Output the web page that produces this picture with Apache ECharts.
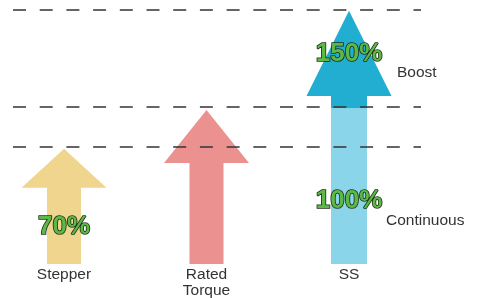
<!DOCTYPE html>
<html>
<head>
<meta charset="utf-8">
<script src="https://cdn.jsdelivr.net/npm/echarts@6/dist/echarts.min.js"></script>
<style>
  html, body { margin: 0; padding: 0; background: #fff; }
  #chart { width: 481px; height: 298px; }
</style>
</head>
<body>
<div id="chart"></div>
<script>
// levels are on a 0..150 torque scale (150 = boost ceiling)
const categories = ['Stepper', 'Rated\nTorque', 'SS'];
const tipLevel = [68, 91, 149.5];
const headBaseLevel = [45, 59.6, 99.2];
const boostStart = [null, null, 92];
const guideLevels = [150, 92.7, 69.1];

const pctText = ['70%', '100%', '150%'];
const pctCat = [0, 2, 2];
const pctLevel = [22, 37.2, 124];

const sideText = ['Boost', 'Continuous'];
const sideLevel = [112.8, 25.4];

const arrowColors = ['#f0d58e', '#eb9190', '#8bd5ea'];
const boostColor = '#21aed0';
const FONT = '"Liberation Sans", Arial, sans-serif';

const chart = echarts.init(document.getElementById('chart'));

function renderArrow(params, api) {
  const i = api.value(0);
  const x = api.coord([i, 0])[0];
  const yBase = api.coord([i, 0])[1];
  const yTip = api.coord([i, api.value(1)])[1];
  const yHead = api.coord([i, api.value(2)])[1];
  const headHalf = 42.5;
  const shaftHalf = i === 2 ? 18 : 17;
  const children = [];
  const split = boostStart[i];
  if (split != null) {
    const ySplit = api.coord([i, split])[1];
    children.push({
      type: 'rect',
      shape: { x: x - shaftHalf, y: ySplit, width: shaftHalf * 2, height: yBase - ySplit },
      style: { fill: arrowColors[i] }
    });
    children.push({
      type: 'polygon',
      shape: { points: [[x, yTip], [x + headHalf, yHead], [x + shaftHalf, yHead], [x + shaftHalf, ySplit],
        [x - shaftHalf, ySplit], [x - shaftHalf, yHead], [x - headHalf, yHead]] },
      style: { fill: boostColor }
    });
    sideText.forEach((t, k) => {
      children.push({
        type: 'text',
        x: x + (k === 0 ? 48 : 37),
        y: api.coord([i, sideLevel[k]])[1],
        style: { text: t, fill: '#333', fontSize: 15.5, fontFamily: FONT, verticalAlign: 'middle', align: 'left' }
      });
    });
  } else {
    children.push({
      type: 'polygon',
      shape: { points: [[x, yTip], [x + headHalf, yHead], [x + shaftHalf, yHead], [x + shaftHalf, yBase],
        [x - shaftHalf, yBase], [x - shaftHalf, yHead], [x - headHalf, yHead]] },
      style: { fill: arrowColors[i] }
    });
  }
  return { type: 'group', children: children };
}

function renderPct(params, api) {
  const p = api.coord([api.value(0), api.value(1)]);
  return {
    type: 'text',
    x: p[0],
    y: p[1],
    style: {
      text: pctText[params.dataIndex],
      fill: '#5cb945',
      stroke: '#1e2a18',
      lineWidth: 1.6,
      fontSize: 26,
      fontWeight: 'bold',
      fontFamily: FONT,
      align: 'center',
      verticalAlign: 'middle'
    }
  };
}

chart.setOption({
  animation: false,
  grid: [
    { left: 64, right: 132, top: 10, bottom: 34, outerBoundsMode: 'none' },
    { left: 13, right: 60, top: 10, bottom: 34, outerBoundsMode: 'none' }
  ],
  xAxis: [
    {
      type: 'category', gridIndex: 0, data: categories, boundaryGap: false,
      axisLine: { show: false }, axisTick: { show: false }, splitLine: { show: false },
      axisLabel: { color: '#333', fontSize: 15.5, fontFamily: FONT, lineHeight: 16, margin: 3, interval: 0 }
    },
    { type: 'value', gridIndex: 1, min: 0, max: 1, show: false }
  ],
  yAxis: [
    { type: 'value', gridIndex: 0, min: 0, max: 150, show: false },
    { type: 'value', gridIndex: 1, min: 0, max: 150, show: false }
  ],
  series: [
    {
      type: 'line', xAxisIndex: 1, yAxisIndex: 1, data: [], z: 1,
      markLine: {
        silent: true, symbol: 'none', label: { show: false },
        lineStyle: { color: '#333', width: 1.5, type: [13, 13.7] },
        data: guideLevels.map(v => ({ yAxis: v }))
      }
    },
    {
      type: 'custom', xAxisIndex: 0, yAxisIndex: 0, z: 3,
      renderItem: renderArrow,
      data: categories.map((c, i) => [i, tipLevel[i], headBaseLevel[i]])
    },
    {
      type: 'custom', xAxisIndex: 0, yAxisIndex: 0, z: 5,
      renderItem: renderPct,
      data: pctText.map((t, i) => [pctCat[i], pctLevel[i]])
    }
  ]
});
</script>
</body>
</html>
